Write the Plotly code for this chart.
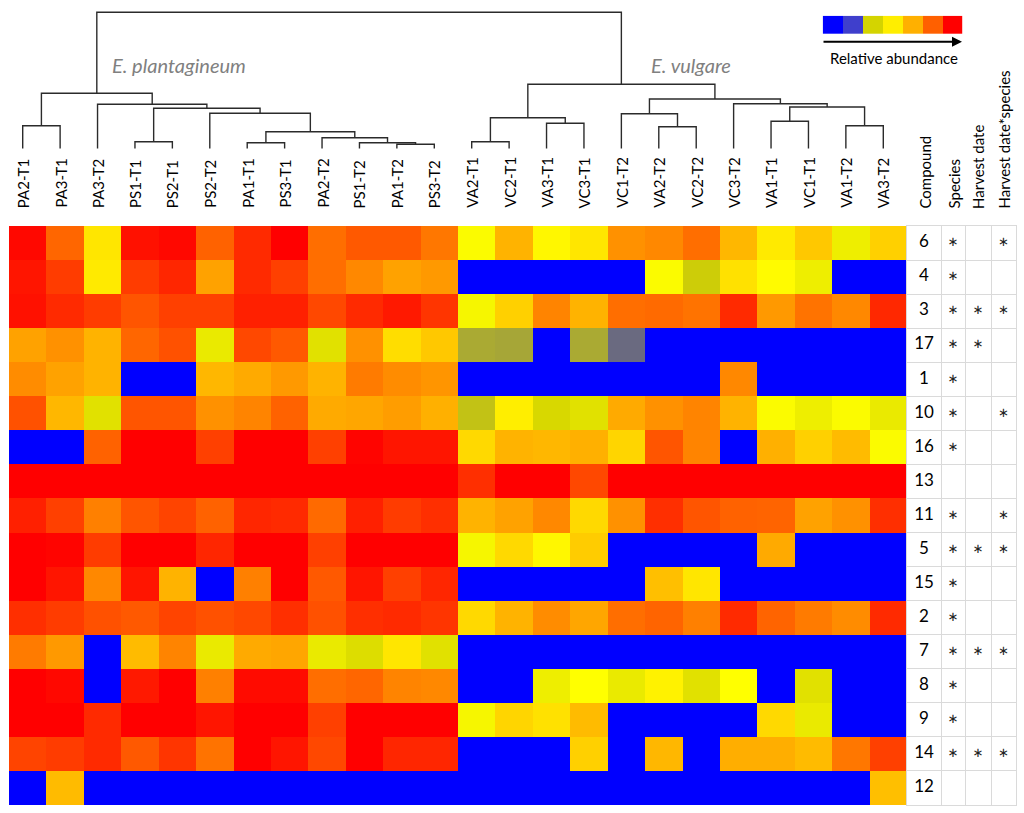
import plotly.graph_objects as go

# ---------------- data ----------------
samples = ["PA2-T1", "PA3-T1", "PA3-T2", "PS1-T1", "PS2-T1", "PS2-T2", "PA1-T1", "PS3-T1",
           "PA2-T2", "PS1-T2", "PA1-T2", "PS3-T2", "VA2-T1", "VC2-T1", "VA3-T1", "VC3-T1",
           "VC1-T2", "VA2-T2", "VC2-T2", "VC3-T2", "VA1-T1", "VC1-T1", "VA1-T2", "VA3-T2"]

compounds = ["6", "4", "3", "17", "1", "10", "16", "13", "11", "5", "15", "2", "7", "8", "9", "14", "12"]

# relative abundance level (0 = absent/blue ... 10 = highest/red), rows follow `compounds`
abundance = [
    [9.8, 7.6, 4.6, 9.6, 9.8, 7.7, 9.0, 10, 7.4, 7.9, 7.9, 7.2, 3.9, 5.8, 4.2, 4.6, 6.6, 6.8, 7.4, 5.7, 4.5, 5.3, 3.6, 5.1],
    [9.5, 8.6, 4.5, 8.6, 9.1, 6.2, 9.0, 8.5, 7.4, 6.8, 6.2, 6.4, 0, 0, 0, 0, 0, 3.9, 2.9, 4.7, 4.1, 3.6, 0, 0],
    [9.6, 9.0, 8.6, 8.0, 8.5, 8.5, 9.25, 9.25, 8.3, 9.0, 9.4, 8.75, 3.8, 5.1, 6.9, 5.8, 7.4, 7.5, 7.3, 9.0, 6.4, 7.3, 6.8, 9.05],
    [6.2, 6.6, 5.8, 7.6, 8.1, 3.5, 8.3, 7.9, 3.3, 6.6, 4.8, 5.3, 2.4, 2.35, 0, 2.4, 1.5, 0, 0, 0, 0, 0, 0, 0],
    [6.7, 6.2, 5.8, 0, 0, 5.7, 6.0, 6.4, 5.8, 7.1, 6.7, 6.5, 0, 0, 0, 0, 0, 0, 0, 6.8, 0, 0, 0, 0],
    [8.1, 5.7, 3.3, 8.0, 8.0, 6.6, 6.9, 7.7, 6.0, 6.1, 6.3, 5.85, 2.75, 4.4, 3.1, 3.3, 6.0, 6.6, 6.9, 5.8, 3.9, 3.6, 3.9, 3.5],
    [0, 0, 7.7, 10, 10, 8.5, 10, 10, 8.5, 9.9, 9.5, 9.5, 4.9, 5.8, 5.7, 5.85, 5.0, 8.0, 6.9, 0, 5.85, 5.1, 5.6, 3.9],
    [10, 10, 10, 10, 10, 10, 10, 10, 10, 10, 10, 10, 8.9, 10, 10, 8.3, 10, 10, 10, 10, 10, 10, 10, 10],
    [9.25, 8.5, 7.0, 8.0, 8.4, 7.7, 9.1, 9.0, 7.5, 9.25, 8.6, 8.9, 5.8, 6.2, 6.8, 4.9, 6.6, 8.9, 8.0, 7.7, 7.65, 6.2, 6.6, 8.9],
    [10, 9.9, 8.6, 10, 10, 9.1, 10, 10, 8.5, 10, 10, 10, 3.8, 4.9, 4.2, 5.2, 0, 0, 0, 0, 6.0, 0, 0, 0],
    [10, 9.5, 6.8, 9.5, 5.8, 0, 7.0, 10, 7.9, 9.5, 8.5, 9.1, 0, 0, 0, 0, 0, 5.5, 4.6, 0, 0, 0, 0, 0],
    [8.9, 8.6, 8.1, 7.9, 8.4, 8.1, 8.3, 8.9, 8.1, 8.9, 9.0, 8.75, 4.9, 5.8, 6.7, 6.1, 7.4, 7.65, 7.0, 9.0, 7.65, 7.1, 6.7, 9.0],
    [7.1, 6.4, 0, 5.6, 6.9, 3.5, 6.0, 6.1, 3.5, 3.2, 4.6, 3.3, 0, 0, 0, 0, 0, 0, 0, 0, 0, 0, 0, 0],
    [10, 9.8, 0, 9.4, 10, 7.0, 9.75, 9.75, 7.4, 7.6, 6.9, 6.8, 0, 0, 3.6, 4.0, 3.5, 4.3, 3.3, 4.0, 0, 3.3, 0, 0],
    [10, 10, 9.0, 10, 10, 9.5, 10, 10, 8.5, 10, 10, 10, 3.8, 5.0, 4.7, 5.6, 0, 0, 0, 0, 4.9, 3.5, 0, 0],
    [8.4, 8.6, 9.0, 7.9, 8.75, 7.3, 10, 9.5, 8.3, 10, 9.1, 9.1, 0, 0, 0, 5.1, 0, 5.7, 0, 5.9, 5.9, 5.6, 7.2, 8.5],
    [0, 5.6, 0, 0, 0, 0, 0, 0, 0, 0, 0, 0, 0, 0, 0, 0, 0, 0, 0, 0, 0, 0, 0, 5.5],
]

# significance flags per compound
species_sig = [1, 1, 1, 1, 1, 1, 1, 0, 1, 1, 1, 1, 1, 1, 1, 1, 0]
harvest_sig = [0, 0, 1, 1, 0, 0, 0, 0, 0, 1, 0, 0, 1, 0, 0, 1, 0]
interaction_sig = [1, 0, 1, 0, 0, 1, 0, 0, 1, 1, 0, 0, 1, 0, 0, 1, 0]

table_headers = ["Compound", "Species", "Harvest date", "Harvest date*species"]

# dendrogram (leaf, leaf, linkage distance)
tree_plantagineum = (("PA2-T1", "PA3-T1", 22.8),
                     ("PA3-T2",
                      (("PS1-T1", "PS2-T1", 6.8),
                       ("PS2-T2",
                        (("PA1-T1", "PS3-T1", 5.8),
                         ("PA2-T2", ("PS1-T2", ("PA1-T2", "PS3-T2", 4.2), 5.8), 10.8),
                         16.8),
                        35.2),
                       40.2),
                      44.2),
                     55.2)
tree_vulgare = ((("VA2-T1", "VC2-T1", 6.8), ("VA3-T1", "VC3-T1", 25.2), 30.8),
                (("VC1-T2", ("VA2-T2", "VC2-T2", 21.8), 34.8),
                 ("VC3-T2", (("VA1-T1", "VC1-T1", 27.2), ("VA1-T2", "VA3-T2", 22.7), 41.5), 44.8),
                 49.5),
                64.2)
root_distance = 136.2

legend_colors = ["#0000FF", "#3F3FCC", "#D4D400", "#FFEE00", "#FFB000", "#FF6000", "#FF0000"]

# ---------------- layout helpers ----------------
W, H = 1024, 813
FONT = "Lato"


def fx(p):
    return p / W


def fy(p):
    return 1 - p / H


heat_x = [fx(9), fx(907)]
heat_y = [fy(805), fy(226)]

fig = go.Figure()

# heatmap
fig.add_trace(go.Heatmap(
    z=abundance, x=list(range(len(samples))), y=list(range(len(compounds))),
    zmin=0, zmax=10,
    colorscale=[[0.0, "#0000FF"], [0.3, "#D4D400"], [0.4, "#FFFF00"], [1.0, "#FF0000"]],
    showscale=False, xaxis="x", yaxis="y", hoverinfo="skip"))

# dendrogram
leaf_index = {s: i for i, s in enumerate(samples)}
dx, dy = [], []


def walk(node):
    if isinstance(node, str):
        return leaf_index[node], 0.0
    a, b, h = node
    xa, ha = walk(a)
    xb, hb = walk(b)
    dx.extend([xa, xa, xb, xb, None])
    dy.extend([ha, h, h, hb, None])
    return (xa + xb) / 2, h


walk((tree_plantagineum, tree_vulgare, root_distance))
fig.add_trace(go.Scatter(x=dx, y=dy, mode="lines", line=dict(color="#2b2b2b", width=1.4),
                         xaxis="x2", yaxis="y2", hoverinfo="skip", showlegend=False))

# table text
tcols = [924, 953, 978, 1003.5]
fig.add_trace(go.Scatter(x=[tcols[0]] * len(compounds), y=list(range(len(compounds))), text=compounds,
                         mode="text", textfont=dict(family=FONT, size=17, color="black"),
                         xaxis="x3", yaxis="y3", hoverinfo="skip", showlegend=False))
for col, flags in zip(tcols[1:], [species_sig, harvest_sig, interaction_sig]):
    ys = [i for i, f in enumerate(flags) if f]
    fig.add_trace(go.Scatter(x=[col] * len(ys), y=ys, text=["∗"] * len(ys), mode="text",
                             textfont=dict(family="DejaVu Sans", size=13, color="#222222"),
                             xaxis="x3", yaxis="y3", hoverinfo="skip", showlegend=False))

# legend colour bar
n = len(legend_colors)
cs = []
for i, c in enumerate(legend_colors):
    cs += [[i / n, c], [(i + 1) / n, c]]
fig.add_trace(go.Heatmap(z=[list(range(n))], zmin=-0.5, zmax=n - 0.5, colorscale=cs, showscale=False,
                         xaxis="x4", yaxis="y4", hoverinfo="skip"))

off = 5 / 37.4
noax = dict(showgrid=False, zeroline=False, showticklabels=False, ticks="", showline=False)
fig.update_layout(
    width=W, height=H, autosize=False,
    margin=dict(l=0, r=0, t=0, b=0),
    paper_bgcolor="white", plot_bgcolor="white",
    showlegend=False,
    xaxis=dict(domain=heat_x, range=[-0.5, len(samples) - 0.5], **noax),
    yaxis=dict(domain=heat_y, range=[len(compounds) - 0.5, -0.5], **noax),
    xaxis2=dict(domain=heat_x, range=[-0.5 + off, len(samples) - 0.5 + off], anchor="y2", **noax),
    yaxis2=dict(domain=[fy(150.5), fy(8.5)], range=[-2, 140], anchor="x2", **noax),
    xaxis3=dict(domain=[fx(907), fx(1016)], range=[907, 1016], anchor="y3",
                tickvals=[941, 965, 991], showgrid=True, gridcolor="#DADADA", gridwidth=1,
                zeroline=False, showticklabels=False, ticks="",
                showline=True, mirror=True, linecolor="#DADADA", linewidth=1),
    yaxis3=dict(domain=heat_y, range=[len(compounds) - 0.5, -0.5], anchor="x3",
                tickvals=[i + 0.5 for i in range(len(compounds) - 1)], showgrid=True,
                gridcolor="#DADADA", gridwidth=1, zeroline=False, showticklabels=False, ticks="",
                showline=True, mirror=True, linecolor="#DADADA", linewidth=1),
    xaxis4=dict(domain=[fx(822.7), fx(962.3)], range=[-0.5, n - 0.5], anchor="y4", **noax),
    yaxis4=dict(domain=[fy(34), fy(15.7)], range=[-0.5, 0.5], anchor="x4", **noax),
)

ann = []
for i, s in enumerate(samples):
    ann.append(dict(x=i, xref="x2", y=fy(210), yref="paper", text=s, textangle=-90,
                    xanchor="center", yanchor="bottom", showarrow=False,
                    font=dict(family=FONT, size=15, color="black")))
for c, t in zip(tcols, table_headers):
    ann.append(dict(x=c, xref="x3", y=fy(211), yref="paper", text=t, textangle=-90,
                    xanchor="center", yanchor="bottom", showarrow=False,
                    font=dict(family=FONT, size=15, color="black")))
ann.append(dict(x=fx(178.5), y=fy(65), xref="paper", yref="paper", text="<i>E. plantagineum</i>",
                xanchor="center", yanchor="middle",
                showarrow=False, font=dict(family=FONT, size=20, color="#808080")))
ann.append(dict(x=fx(691), y=fy(65), xref="paper", yref="paper", text="<i>E. vulgare</i>",
                xanchor="center", yanchor="middle",
                showarrow=False, font=dict(family=FONT, size=20, color="#808080")))
ann.append(dict(x=fx(894), y=fy(57.5), xref="paper", yref="paper", text="Relative abundance",
                xanchor="center", yanchor="middle",
                showarrow=False, font=dict(family=FONT, size=15, color="black")))
ann.append(dict(x=fx(962), y=fy(41.7), xref="paper", yref="paper", text="", showarrow=True,
                ax=-140, ay=0, axref="pixel", ayref="pixel", arrowhead=2, arrowsize=1,
                arrowwidth=2, arrowcolor="black"))
fig.update_layout(annotations=ann)

fig.write_html("out.html", config={"displayModeBar": False},
               post_script="document.body.style.margin='0px';document.body.style.overflow='hidden';")
